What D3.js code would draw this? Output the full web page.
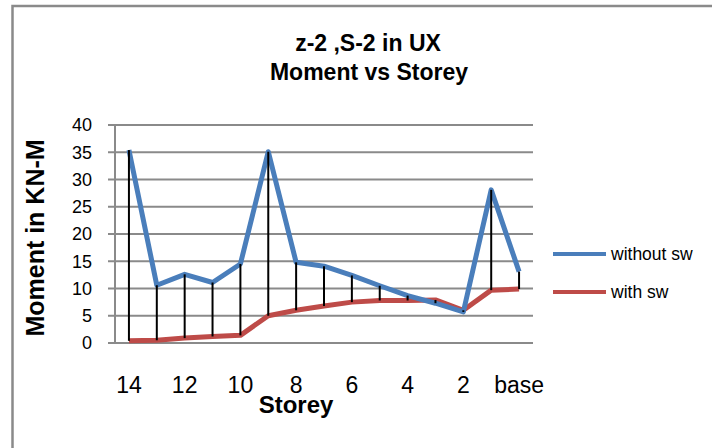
<html>
  <head>
    <title>Moment vs Storey</title>
    <style>
      body { margin: 0; background: #fff; }
      svg text { font-family: "Liberation Sans", Arial, sans-serif; fill: #000; }
    </style>
  </head>
  <body>
    <div id="vis"></div>
    <script src="https://d3js.org/d3.v7.min.js"></script>
    <script>
      // data
      const storeys = ['14','13','12','11','10','9','8','7','6','5','4','3','2','1','base']
      const withoutSw = [35.4, 10.6, 12.6, 11.1, 14.5, 35.1, 14.8, 14.1, 12.4, 10.5, 8.7, 7.3, 5.7, 28.1, 13.1]
      const withSw = [0.4, 0.5, 0.9, 1.2, 1.4, 5.0, 6.0, 6.8, 7.5, 7.8, 7.8, 7.9, 6.0, 9.7, 9.9]
      const yTicks = [0, 5, 10, 15, 20, 25, 30, 35, 40]
      const xTickLabels = ['14','12','10','8','6','4','2','base']
      const seriesNames = ['without sw', 'with sw']

      const svg_width = 712,
            svg_height = 448,
            plot_left = 115, plot_right = 533, plot_top = 125, plot_bottom = 343,
            blue = '#4A7EBB', red = '#BE4B48', grid = '#8A8A8A'

      const x = d3.scaleBand().domain(storeys).range([plot_left, plot_right])
      const y = d3.scaleLinear().domain([0, 40]).range([plot_bottom, plot_top])
      const cx = d => x(d) + x.bandwidth() / 2

      const svg = d3.select('#vis').append('svg')
              .attr('width', svg_width).attr('height', svg_height)

      // chart frame
      svg.append('rect').attr('x', 12.5).attr('y', 6).attr('width', 720).attr('height', 460)
              .attr('fill', '#fff').attr('stroke', '#8A8A8A').attr('stroke-width', 2.5)

      // title
      svg.append('text').text('z-2 ,S-2 in UX')
              .attr('x', 368).attr('y', 51).attr('text-anchor', 'middle')
              .attr('font-size', 23).attr('font-weight', 'bold')
      svg.append('text').text('Moment vs Storey')
              .attr('x', 369).attr('y', 80).attr('text-anchor', 'middle')
              .attr('font-size', 23).attr('font-weight', 'bold')

      // gridlines and y axis
      svg.append('g').selectAll('line')
              .data(yTicks)
              .join('line')
              .attr('x1', plot_left - 7).attr('x2', plot_right)
              .attr('y1', d => y(d)).attr('y2', d => y(d))
              .attr('stroke', grid).attr('stroke-width', 2)
      svg.append('line')
              .attr('x1', plot_left).attr('x2', plot_left).attr('y1', plot_top).attr('y2', plot_bottom)
              .attr('stroke', grid).attr('stroke-width', 2)

      svg.append('g').selectAll('text')
              .data(yTicks)
              .join('text')
              .text(d => d)
              .attr('x', 92).attr('y', d => y(d))
              .attr('dy', '0.35em')
              .attr('text-anchor', 'end')
              .attr('font-size', 18)

      svg.append('g').selectAll('text')
              .data(xTickLabels)
              .join('text')
              .text(d => d)
              .attr('x', d => cx(d)).attr('y', 393)
              .attr('text-anchor', 'middle')
              .attr('font-size', 23)

      // axis titles
      svg.append('text').text('Moment in KN-M')
              .attr('transform', 'translate(44,238) rotate(-90)')
              .attr('text-anchor', 'middle')
              .attr('font-size', 25).attr('font-weight', 'bold')
      svg.append('text').text('Storey')
              .attr('x', 296).attr('y', 413).attr('text-anchor', 'middle')
              .attr('font-size', 24).attr('font-weight', 'bold')

      // series lines
      const line = vals => d3.line()
              .x((d, i) => cx(storeys[i]))
              .y(d => y(d))(vals)
      svg.append('path').attr('d', line(withSw))
              .attr('fill', 'none').attr('stroke', red).attr('stroke-width', 5)
              .attr('stroke-linejoin', 'round')
      svg.append('path').attr('d', line(withoutSw))
              .attr('fill', 'none').attr('stroke', blue).attr('stroke-width', 5)
              .attr('stroke-linejoin', 'round')

      // high-low lines
      svg.append('g').selectAll('line')
              .data(storeys)
              .join('line')
              .attr('x1', d => cx(d)).attr('x2', d => cx(d))
              .attr('y1', (d, i) => y(withoutSw[i]))
              .attr('y2', (d, i) => y(withSw[i]))
              .attr('stroke', '#000').attr('stroke-width', 2)

      // legend
      const legend = svg.append('g').selectAll('g')
              .data(seriesNames)
              .join('g')
              .attr('transform', (d, i) => 'translate(553,' + (254 + i * 38) + ')')
      legend.append('line')
              .attr('x1', 0).attr('x2', 53)
              .attr('stroke', (d, i) => i === 0 ? blue : red).attr('stroke-width', 4)
      legend.append('text')
              .text(d => d)
              .attr('x', 58).attr('dy', '0.35em')
              .attr('font-size', 17.5)
    </script>
  </body>
</html>
